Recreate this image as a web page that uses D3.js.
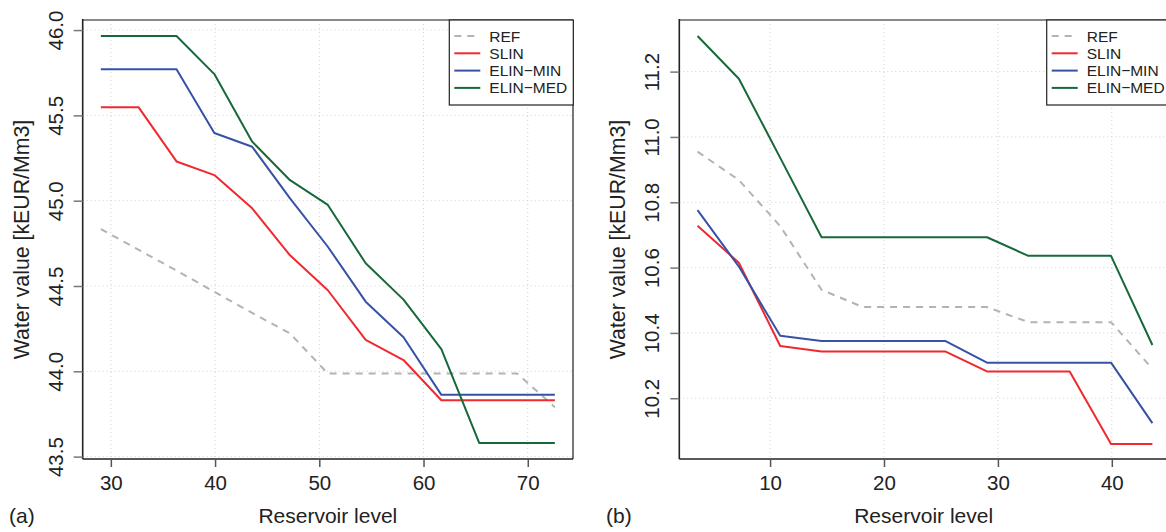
<!DOCTYPE html>
<html>
<head>
<meta charset="utf-8">
<script src="https://cdn.jsdelivr.net/npm/d3@7"></script>
<style>
  html, body { margin: 0; padding: 0; background: #fff; }
  svg { display: block; font-family: "Liberation Sans", Arial, Helvetica, sans-serif; }
</style>
</head>
<body>
<svg id="chart" width="1166" height="532"></svg>
<script>
// ---------- data ----------
const seriesNames = ["REF", "SLIN", "ELIN\u2212MIN", "ELIN\u2212MED"];

const levelsA = [29.04, 32.67, 36.3, 39.93, 43.56, 47.19, 50.82, 54.45, 58.08, 61.71, 65.34, 68.97, 72.6];
const refA  = [44.834, 44.712, 44.59, 44.466, 44.342, 44.222, 43.987, 43.987, 43.987, 43.987, 43.987, 43.987, 43.79];
const slinA = [45.547, 45.547, 45.23, 45.15, 44.955, 44.68, 44.475, 44.184, 44.066, 43.83, 43.83, 43.83, 43.83];
const minA  = [45.77, 45.77, 45.77, 45.397, 45.316, 45.014, 44.73, 44.408, 44.2, 43.862, 43.862, 43.862, 43.862];
const medA  = [45.965, 45.965, 45.965, 45.742, 45.346, 45.12, 44.975, 44.633, 44.42, 44.13, 43.58, 43.58, 43.58];

const levelsB = [3.63, 7.26, 10.89, 14.52, 18.15, 21.78, 25.41, 29.04, 32.67, 36.3, 39.93, 43.56];
const refB  = [10.955, 10.868, 10.727, 10.532, 10.479, 10.479, 10.479, 10.479, 10.433, 10.433, 10.433, 10.29];
const slinB = [10.728, 10.615, 10.36, 10.343, 10.343, 10.343, 10.343, 10.282, 10.282, 10.282, 10.06, 10.06];
const minB  = [10.776, 10.603, 10.391, 10.375, 10.375, 10.375, 10.375, 10.309, 10.309, 10.309, 10.309, 10.124];
const medB  = [11.309, 11.178, 10.936, 10.693, 10.693, 10.693, 10.693, 10.693, 10.636, 10.636, 10.636, 10.363];

const xTicksA = [30, 40, 50, 60, 70];
const yTicksA = ["43.5", "44.0", "44.5", "45.0", "45.5", "46.0"];
const xTicksB = [10, 20, 30, 40];
const yTicksB = ["10.2", "10.4", "10.6", "10.8", "11.0", "11.2"];

const xTitle = "Reservoir level";
const yTitle = "Water value [kEUR/Mm3]";

// ---------- styles ----------
const colors = ["#b3b3b3", "#ee2a2e", "#3651a6", "#17693a"];
const dashes = ["7,6", null, null, null];

const svg = d3.select("#chart");

function drawPanel(cfg) {
  const {left, right, top, bottom, xDomain, yDomain, levels, series, xTicks, yTicks, tag, legendX} = cfg;
  const x = d3.scaleLinear().domain(xDomain).range([left, right]);
  const y = d3.scaleLinear().domain(yDomain).range([bottom, top]);
  const g = svg.append("g");

  const clipId = "clip-" + tag.replace(/[()]/g, "");
  svg.append("clipPath").attr("id", clipId)
    .append("rect").attr("x", left).attr("y", top).attr("width", right - left).attr("height", bottom - top);

  // grid
  const grid = g.append("g").attr("clip-path", `url(#${clipId})`);
  grid.selectAll(".vg").data(xTicks).join("line")
    .attr("x1", d => x(d)).attr("x2", d => x(d)).attr("y1", top).attr("y2", bottom)
    .attr("stroke", "#cfcfcf").attr("stroke-width", 1).attr("stroke-dasharray", "1,3");
  grid.selectAll(".hg").data(yTicks).join("line")
    .attr("x1", left).attr("x2", right).attr("y1", d => y(+d)).attr("y2", d => y(+d))
    .attr("stroke", "#cfcfcf").attr("stroke-width", 1).attr("stroke-dasharray", "1,3");

  // lines
  const line = d3.line().x((d, i) => x(levels[i])).y(d => y(d));
  const lines = g.append("g").attr("clip-path", `url(#${clipId})`);
  series.forEach((s, k) => {
    lines.append("path").datum(s).attr("d", line)
      .attr("fill", "none").attr("stroke", colors[k]).attr("stroke-width", 2)
      .attr("stroke-dasharray", dashes[k]).attr("stroke-linejoin", "round");
  });

  // box
  g.append("line").attr("x1", left).attr("x2", right).attr("y1", top).attr("y2", top)
    .attr("stroke", "#8a8a8a").attr("stroke-width", 2);
  g.append("line").attr("x1", right).attr("x2", right).attr("y1", top).attr("y2", bottom)
    .attr("stroke", "#555").attr("stroke-width", 1.6);
  g.append("line").attr("x1", left).attr("x2", left).attr("y1", top - 1).attr("y2", bottom)
    .attr("stroke", "#222").attr("stroke-width", 1.6);
  g.append("line").attr("x1", left).attr("x2", right).attr("y1", bottom).attr("y2", bottom)
    .attr("stroke", "#222").attr("stroke-width", 1.6);

  // x axis
  const xAxis = d3.axisBottom(x).tickValues(xTicks).tickSize(8).tickPadding(8).tickFormat(d3.format("d"));
  const xa = g.append("g").attr("transform", `translate(0,${bottom})`).call(xAxis);
  xa.select(".domain").remove();
  xa.selectAll(".tick line").attr("stroke", "#555").attr("stroke-width", 1.5);
  xa.selectAll(".tick text").attr("font-size", 20.5).attr("fill", "#222")
    .attr("font-family", "Liberation Sans, Arial, sans-serif").attr("dy", "0.73em");

  // y axis (rotated labels)
  const yAxis = d3.axisLeft(y).tickValues(yTicks.map(Number)).tickSize(9).tickFormat((d, i) => yTicks[i]);
  const ya = g.append("g").attr("transform", `translate(${left},0)`).call(yAxis);
  ya.select(".domain").remove();
  ya.selectAll(".tick line").attr("stroke", "#777").attr("stroke-width", 1.5);
  ya.selectAll(".tick text")
    .attr("font-size", 20.5).attr("fill", "#222")
    .attr("font-family", "Liberation Sans, Arial, sans-serif")
    .attr("text-anchor", "middle").attr("x", null).attr("dy", null)
    .attr("transform", "translate(-20,0) rotate(-90)");

  // axis titles
  g.append("text").attr("x", (left + Math.min(right, 1168)) / 2).attr("y", 523)
    .attr("text-anchor", "middle").attr("font-size", 21).attr("fill", "#222").text(xTitle);
  g.append("text").attr("transform", `translate(${left - 54},${(top + bottom) / 2}) rotate(-90)`)
    .attr("text-anchor", "middle").attr("font-size", 21.3).attr("fill", "#222").text(yTitle);

  // panel tag
  g.append("text").attr("x", cfg.tagX).attr("y", 523).attr("font-size", 21).attr("fill", "#222").text(tag);

  // legend
  const lg = g.append("g");
  lg.append("rect").attr("x", legendX).attr("y", top).attr("width", 124).attr("height", 85)
    .attr("fill", "#fff").attr("stroke", "#222").attr("stroke-width", 1.2);
  seriesNames.forEach((n, k) => {
    const ly = top + 16 + k * 17.3;
    lg.append("line").attr("x1", legendX + 5).attr("x2", legendX + 31).attr("y1", ly).attr("y2", ly)
      .attr("stroke", colors[k]).attr("stroke-width", 2).attr("stroke-dasharray", dashes[k]);
    lg.append("text").attr("x", legendX + 40).attr("y", ly + 5.5).attr("font-size", 15.5)
      .attr("fill", "#222").text(n);
  });
}

drawPanel({
  left: 82.7, right: 573, top: 20, bottom: 459,
  xDomain: [27.3, 74.34], yDomain: [43.486, 46.059],
  levels: levelsA, series: [refA, slinA, minA, medA],
  xTicks: xTicksA, yTicks: yTicksA, tag: "(a)", tagX: 9, legendX: 449.3
});

drawPanel({
  left: 679.3, right: 1170.6, top: 20, bottom: 459,
  xDomain: [2.03, 45.16], yDomain: [10.014, 11.358],
  levels: levelsB, series: [refB, slinB, minB, medB],
  xTicks: xTicksB, yTicks: yTicksB, tag: "(b)", tagX: 606, legendX: 1046.7
});
</script>
</body>
</html>
